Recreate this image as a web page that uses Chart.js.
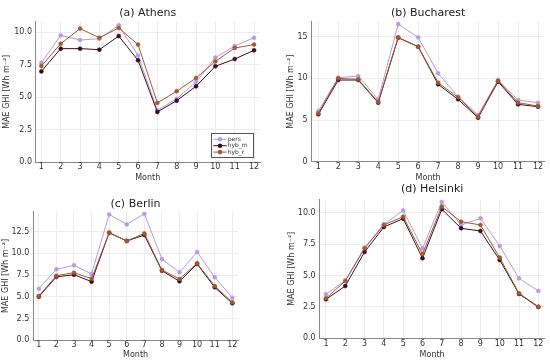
<!DOCTYPE html>
<html><head><meta charset="utf-8">
<script src="https://cdn.jsdelivr.net/npm/chart.js@4.4.1/dist/chart.umd.min.js"></script>
<style>
html,body{margin:0;padding:0;background:#fff;width:550px;height:360px;overflow:hidden;position:relative}
canvas{position:absolute}
</style></head><body>
<canvas id="c0"></canvas><canvas id="c1"></canvas><canvas id="c2"></canvas><canvas id="c3"></canvas>
<script>
const months = [1,2,3,4,5,6,7,8,9,10,11,12];
const seriesNames = ['pers','hyb_m','hyb_r'];

const athensPers = [7.64, 9.74, 9.38, 9.49, 10.51, 8.2, 3.97, 4.87, 6.15, 8.03, 8.92, 9.56];
const athensHybM = [6.97, 8.72, 8.72, 8.64, 9.69, 7.82, 3.85, 4.72, 5.82, 7.36, 7.92, 8.59];
const athensHybR = [7.38, 9.1, 10.26, 9.56, 10.31, 9.03, 4.54, 5.44, 6.46, 7.74, 8.77, 9.03];

const bucharestPers = [6.08, 10.08, 10.28, 7.48, 16.52, 14.92, 10.6, 7.8, 5.6, 9.8, 7.4, 7.08];
const bucharestHybM = [5.68, 9.8, 9.8, 7.08, 14.88, 13.8, 9.28, 7.48, 5.28, 9.6, 6.88, 6.6];
const bucharestHybR = [5.8, 10.0, 9.88, 7.16, 14.92, 13.8, 9.48, 7.72, 5.4, 9.72, 7.08, 6.68];

const berlinPers = [5.94, 8.17, 8.63, 7.63, 14.49, 13.34, 14.57, 9.36, 7.82, 10.16, 7.25, 4.91];
const berlinHybM = [5.02, 7.3, 7.55, 6.75, 12.38, 11.43, 12.12, 8.01, 6.79, 8.78, 6.1, 4.26];
const berlinHybR = [5.1, 7.44, 7.78, 7.09, 12.38, 11.43, 12.3, 8.09, 7.06, 8.86, 6.25, 4.37];

const helsinkiPers = [3.5, 4.6, 7.21, 9.07, 10.16, 7.16, 10.85, 9.02, 9.55, 7.35, 4.77, 3.77];
const helsinkiHybM = [3.1, 4.16, 6.87, 8.86, 9.52, 6.37, 10.27, 8.75, 8.54, 6.23, 3.53, 2.49];
const helsinkiHybR = [3.18, 4.56, 7.16, 9.02, 9.68, 6.71, 10.48, 9.28, 9.02, 6.42, 3.58, 2.52];

const ticksA = [0, 2.5, 5, 7.5, 10];
const ticksALabels = ['0.0','2.5','5.0','7.5','10.0'];
const ticksB = [0, 5, 10, 15];
const ticksBLabels = ['0','5','10','15'];
const ticksC = [0, 2.5, 5, 7.5, 10, 12.5];
const ticksCLabels = ['0.0','2.5','5.0','7.5','10.0','12.5'];

const titles = ['(a) Athens','(b) Bucharest','(c) Berlin','(d) Helsinki'];
const yTitle = 'MAE GHI [Wh m\u207B\u00B2]';
const xTitle = 'Month';

const colors = ['#b59ce0', '#3a0d1e', '#a3592f'];
const FONT = '"DejaVu Sans", sans-serif';

const panels = [
  {id:'c0', title:titles[0], left:0, top:0, w:272, h:185, yW:35, padR:11.6, xH:23, tT:6.5, tB:1.9, yMax:10.8, yt:ticksA, ytl:ticksALabels, yTP:2.2, xTP:0, xTB:2.2, yPad:3, legend:true, data:[athensPers, athensHybM, athensHybR]},
  {id:'c1', title:titles[1], left:278, top:0, w:272, h:185, yW:33.7, padR:5.4, xH:23.3, tT:6.2, tB:2.3, yMax:16.8, yt:ticksB, ytl:ticksBLabels, yTP:7.7, xTP:0, xTB:2.2, yPad:4, legend:false, data:[bucharestPers, bucharestHybM, bucharestHybR]},
  {id:'c2', title:titles[2], left:0, top:188, w:272, h:172, yW:33, padR:33.9, xH:19.7, tT:9.4, tB:1.1, yMax:14.8, yt:ticksC, ytl:ticksCLabels, yTP:1.4, xTP:0, xTB:0.2, yPad:3.7, legend:false, data:[berlinPers, berlinHybM, berlinHybR]},
  {id:'c3', title:titles[3], left:278, top:180, w:272, h:180, yW:41.6, padR:5.3, xH:21.7, tT:2.4, tB:3.7, yMax:11.06, yt:ticksA, ytl:ticksALabels, yTP:8.7, xTP:1, xTB:0.5, yPad:4, legend:false, data:[helsinkiPers, helsinkiHybM, helsinkiHybR]}
];

const insideLegend = {
  id: 'insideLegend',
  afterDraw(chart, args, opts) {
    if (!opts.show) return;
    const ctx = chart.ctx, a = chart.chartArea;
    const x1 = a.right - 8.1, y1 = a.bottom - 4.7;
    const w = 41.6, h = 24;
    const x0 = x1 - w, y0 = y1 - h;
    ctx.save();
    ctx.fillStyle = '#fff';
    ctx.fillRect(x0, y0, w, h);
    ctx.strokeStyle = '#555';
    ctx.lineWidth = 1;
    ctx.strokeRect(Math.round(x0)+0.5, Math.round(y0)+0.5, Math.round(w), Math.round(h));
    chart.data.datasets.forEach((ds, i) => {
      const y = y0 + 6 + i * 6.4;
      ctx.strokeStyle = ds.borderColor;
      ctx.lineWidth = 1;
      ctx.beginPath(); ctx.moveTo(x0 + 2.6, y); ctx.lineTo(x0 + 16, y); ctx.stroke();
      ctx.fillStyle = ds.backgroundColor;
      ctx.beginPath(); ctx.arc(x0 + 9.3, y, 2.3, 0, Math.PI * 2); ctx.fill();
      ctx.fillStyle = '#333';
      ctx.font = '6px ' + FONT;
      ctx.textBaseline = 'middle';
      ctx.textAlign = 'left';
      ctx.fillText(ds.label, x0 + 17, y);
    });
    ctx.restore();
  }
};

panels.forEach(p => {
  const cv = document.getElementById(p.id);
  cv.width = p.w; cv.height = p.h;
  cv.style.left = p.left + 'px'; cv.style.top = p.top + 'px';
  cv.style.width = p.w + 'px'; cv.style.height = p.h + 'px';
  const datasets = p.data.map((vals, i) => ({
    label: seriesNames[i],
    data: months.map((m, j) => ({x: m, y: vals[j]})),
    borderColor: colors[i],
    backgroundColor: colors[i],
    pointBackgroundColor: colors[i],
    pointBorderColor: colors[i],
    borderWidth: 1,
    pointRadius: 2,
    pointBorderWidth: 0.5,
    tension: 0,
    order: 3 - i
  }));
  new Chart(cv, {
    type: 'line',
    data: {datasets},
    plugins: [insideLegend],
    options: {
      responsive: false,
      animation: false,
      devicePixelRatio: 1,
      layout: {padding: {left: 0, right: p.padR, top: 0, bottom: 0}},
      plugins: {
        legend: {display: false},
        tooltip: {enabled: false},
        insideLegend: {show: p.legend},
        title: {display: true, text: p.title, fullSize: false, color: '#222',
          font: {family: FONT, size: 11, weight: 'normal'},
          padding: {top: p.tT, bottom: p.tB}}
      },
      scales: {
        x: {
          type: 'linear', min: 0.67, max: 12.33,
          afterBuildTicks: s => { s.ticks = months.map(v => ({value: v})); },
          afterFit: s => { s.height = p.xH; },
          ticks: {font: {family: FONT, size: 8}, color: '#333', padding: p.xTP, autoSkip: false, maxRotation: 0,
            callback: v => String(v)},
          grid: {color: '#ececec', drawTicks: false, lineWidth: 1},
          border: {display: true, color: '#888', width: 1},
          title: {display: true, text: xTitle, color: '#333', font: {family: FONT, size: 8}, padding: {top: 0, bottom: p.xTB}}
        },
        y: {
          type: 'linear', min: 0, max: p.yMax,
          afterBuildTicks: s => { s.ticks = p.yt.map(v => ({value: v})); },
          afterFit: s => { s.width = p.yW; },
          ticks: {font: {family: FONT, size: 8}, color: '#333', padding: p.yPad, autoSkip: false,
            callback: v => { const k = p.yt.indexOf(v); return k >= 0 ? p.ytl[k] : ''; }},
          grid: {color: '#ececec', drawTicks: false, lineWidth: 1},
          border: {display: true, color: '#888', width: 1},
          title: {display: true, text: yTitle, color: '#333', font: {family: FONT, size: 8}, padding: {top: p.yTP, bottom: 0}}
        }
      }
    }
  });
});
</script>
</body></html>
